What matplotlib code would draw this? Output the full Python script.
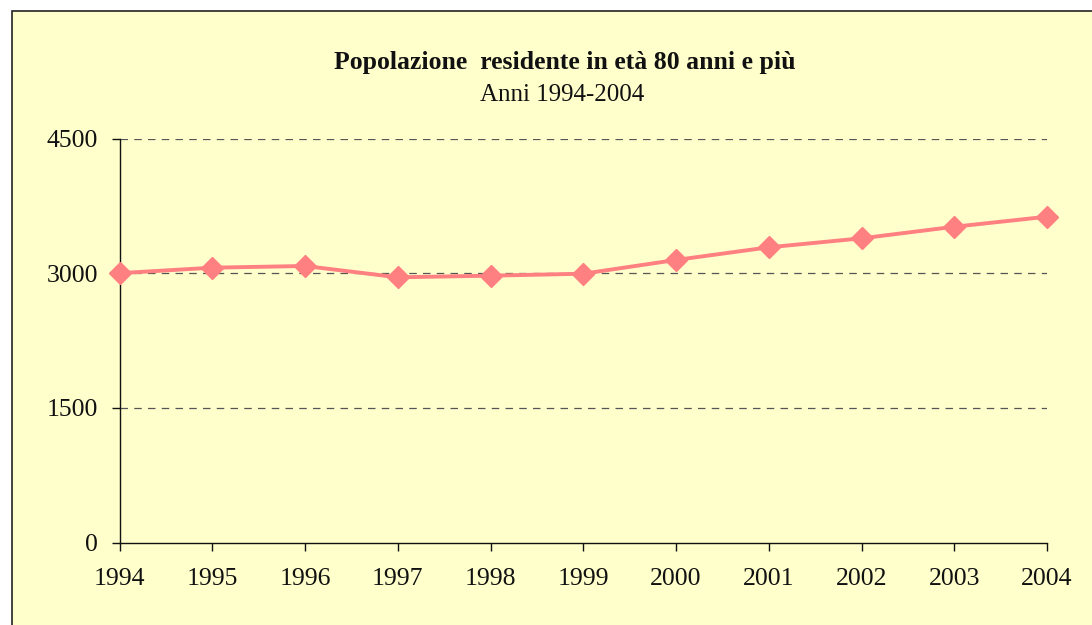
import matplotlib
matplotlib.use("Agg")
import matplotlib.pyplot as plt
from matplotlib.patches import Rectangle

years = [1994, 1995, 1996, 1997, 1998, 1999, 2000, 2001, 2002, 2003, 2004]
values = [3000, 3061, 3080, 2954, 2972, 2994, 3147, 3288, 3388, 3517, 3629]
yticks = [0, 1500, 3000, 4500]
title = "Popolazione  residente in età 80 anni e più"
subtitle = "Anni 1994-2004"

plt.rcParams['font.family'] = ['Liberation Serif', 'DejaVu Serif']

W, H = 1092, 625
fig = plt.figure(figsize=(W / 100, H / 100), dpi=100)
fig.patch.set_facecolor('white')

bg = '#FFFFCC'
frame = Rectangle((12 / W, -0.05), 1.1, 1 - 11 / H + 0.05, transform=fig.transFigure,
                  facecolor=bg, edgecolor='#222222', linewidth=1.2, zorder=-10)
fig.patches.append(frame)

ax = fig.add_axes([119.5 / W, 1 - 542.5 / H, (1047 - 119.5) / W, (542.5 - 138.5) / H])
ax.set_zorder(5)
ax.set_facecolor('none')

ax.plot(years, values, color='#FF8080', linewidth=2.8, marker='D', markersize=11.5,
        markerfacecolor='#FF8080', markeredgecolor='#FF8080', zorder=3, clip_on=False)

ax.set_xlim(years[0], years[-1])
ax.set_ylim(0, 4500)
ax.set_yticks(yticks)
ax.set_xticks(years)
ax.set_xticklabels([str(y) for y in years])
ax.set_yticklabels([str(v) for v in yticks])

for v in yticks[1:]:
    ax.axhline(v, color='#555555', linewidth=0.9, linestyle=(0, (6, 5)), zorder=1)

for s in ['top', 'right']:
    ax.spines[s].set_visible(False)
for s in ['left', 'bottom']:
    ax.spines[s].set_color('#111111')
    ax.spines[s].set_linewidth(1.0)

ax.tick_params(axis='both', direction='out', length=5.5, width=1.0, color='#111111',
               labelsize=18.5, labelcolor='#111111')
ax.tick_params(axis='x', pad=13)
ax.tick_params(axis='y', pad=10)

fig.text(565 / W, 1 - 62 / H, title, ha='center', va='center', fontsize=18.5,
         fontweight='bold', color='#111111')
fig.text(562 / W, 1 - 95 / H, subtitle, ha='center', va='center', fontsize=18,
         color='#111111')

fig.savefig('out.png', dpi=100, facecolor=fig.get_facecolor())
